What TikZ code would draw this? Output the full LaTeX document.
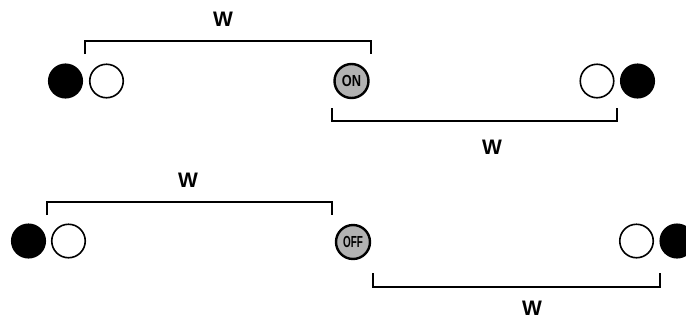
\documentclass[tikz,border=0pt]{standalone}
\usepackage{fontspec}
\setmainfont{Liberation Sans}
\begin{document}
\begin{tikzpicture}[x=1pt,y=-1pt,
  dot/.style={circle,draw=black,line width=1.6pt,minimum size=33.5pt,inner sep=0pt},
  blackdot/.style={dot,fill=black},
  whitedot/.style={dot,fill=white},
  switchdot/.style={circle,draw=black,line width=2.4pt,fill=black!30,minimum size=34pt,inner sep=0pt,
     font=\fontsize{16}{16}\selectfont\bfseries},
  bracket/.style={line width=1.5pt},
  wlabel/.style={font=\fontsize{21}{21}\selectfont\bfseries}]
\useasboundingbox (0,0) rectangle (686,322);
% top row
\node[blackdot] (b1) at (65.5,81) {};
\node[whitedot] (w1) at (106.5,81) {};
\node[switchdot] (on) at (351.5,81) {\scalebox{0.8}[1]{ON}};
\node[whitedot] (w2) at (597,81) {};
\node[blackdot] (b2) at (637.5,81) {};
\coordinate (t1a) at (85,54);
\coordinate (t1b) at (371,54);
\draw[bracket] (t1a) -- ++(0,-13) -| (t1b);
\node[wlabel] (W1) at (223,19) {W};
\coordinate (t2a) at (332,108);
\coordinate (t2b) at (617,108);
\draw[bracket] (t2a) -- ++(0,13) -| (t2b);
\node[wlabel] (W2) at (492,147) {W};
% bottom row
\node[blackdot] (b3) at (28.5,241) {};
\node[whitedot] (w3) at (68.5,241) {};
\node[switchdot] (off) at (353,242) {\scalebox{0.62}[1]{OFF}};
\node[whitedot] (w4) at (636.5,241) {};
\node[blackdot] (b4) at (677,241) {};
\coordinate (t3a) at (47,215);
\coordinate (t3b) at (332,215);
\draw[bracket] (t3a) -- ++(0,-13) -| (t3b);
\node[wlabel] (W3) at (188,180) {W};
\coordinate (t4a) at (373,273);
\coordinate (t4b) at (660,273);
\draw[bracket] (t4a) -- ++(0,14) -| (t4b);
\node[wlabel] (W4) at (532,308) {W};
\end{tikzpicture}
\end{document}
